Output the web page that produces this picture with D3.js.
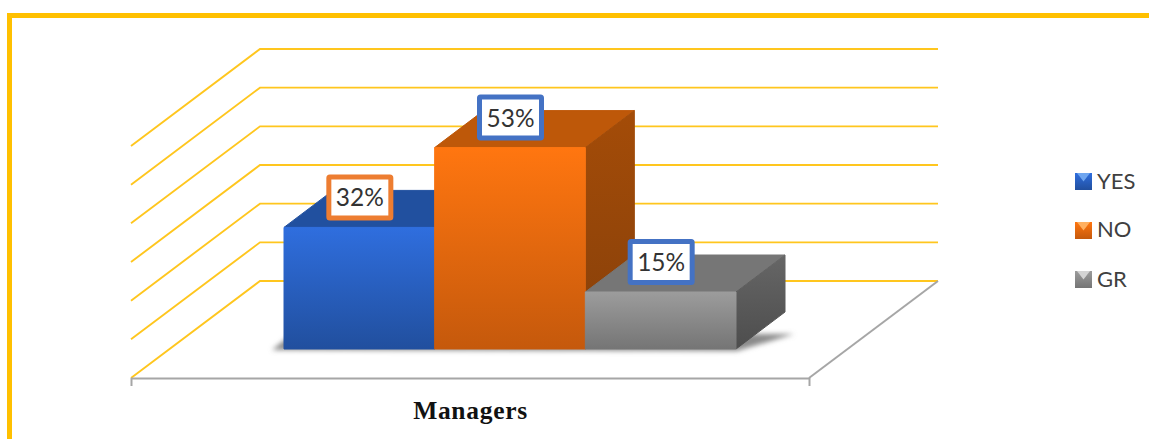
<!DOCTYPE html>
<html>
<head>
<meta charset="utf-8">
<script src="https://cdn.jsdelivr.net/npm/d3@7"></script>
<style>
  html, body { margin: 0; padding: 0; background: #fff; }
  svg { display: block; }
</style>
</head>
<body>
<svg id="chart" width="1149" height="439"></svg>
<script>
// Survey result for managers, in percent
const categories = ["Managers"];
const seriesNames = ["YES", "NO", "GR"];
const seriesValues = [32, 53, 15];
const valueTicks = [0, 10, 20, 30, 40, 50, 60];

// Per-series face colours
const faces = [
  { frontTop: "#2F6EDE", frontBottom: "#214F9E", top: "#21509F", sideTop: "#1E4A94", sideBottom: "#173A75", glint: "#6FA6F0" },
  { frontTop: "#FF7610", frontBottom: "#C5590C", top: "#BE5809", sideTop: "#A44C08", sideBottom: "#87400A", glint: "#FFB060" },
  { frontTop: "#9C9C9C", frontBottom: "#757575", top: "#767676", sideTop: "#666666", sideBottom: "#4D4D4D", glint: "#D4D4D4" }
];
const labelBorders = ["#ED7D31", "#4472C4", "#4472C4"];

const svg = d3.select("#chart");
const defs = svg.append("defs");

// Oblique projection: the floor runs back and up from its front edge
const frontY = 378, depthDX = 129, depthDY = -97;
const floorX = d3.scaleLinear().domain([0, 1]).range([131, 809]);
const wallY = d3.scaleLinear().domain([0, 60]).range([frontY + depthDY, 49]);
const barHeight = d3.scaleLinear().domain([0, 100]).range([0, 380]);
const barBand = d3.scaleBand().domain(seriesNames).range([284, 736]);

const GOLD = "#FFC000", AXIS = "#A6A6A6";

// Outer frame
svg.append("path")
  .attr("d", "M9.5 439V15.5H1149")
  .attr("fill", "none").attr("stroke", GOLD).attr("stroke-width", 5);

// Gridlines: left wall then back wall
const grid = svg.append("g").attr("fill", "none").attr("stroke", "#FFC61E").attr("stroke-width", 1.9);
grid.selectAll("path").data(valueTicks).join("path")
  .attr("d", t => {
    const y = wallY(t);
    const x0 = floorX(0), x1 = floorX(1) + depthDX;
    return `M${x0} ${y - depthDY}L${x0 + depthDX} ${y}H${x1}`;
  });

// Floor edges and category axis
const axisG = svg.append("g").attr("transform", `translate(0,${frontY})`);
axisG.call(d3.axisBottom(d3.scaleLinear().domain([0, 1]).range(floorX.range()))
    .tickValues([0, 1]).tickSize(8).tickFormat(""));
axisG.selectAll("path, line").attr("stroke", AXIS).attr("stroke-width", 2);
axisG.select("path").attr("d", `M${floorX(0)} 0.5H${floorX(1)}`);
svg.append("line")
  .attr("x1", floorX(1)).attr("y1", frontY)
  .attr("x2", floorX(1) + depthDX).attr("y2", frontY + depthDY)
  .attr("stroke", AXIS).attr("stroke-width", 2);

// Soft shadow cast on the floor
defs.append("filter").attr("id", "soft")
  .attr("x", "-10%").attr("y", "-30%").attr("width", "120%").attr("height", "160%")
  .append("feGaussianBlur").attr("stdDeviation", 2.6);

// Bars
const barBottom = 349, barDX = 49, barDY = -37;
const first = barBand(seriesNames[0]), last = barBand(seriesNames[2]) + barBand.bandwidth();
svg.append("path")
  .attr("d", `M${first - 12} ${barBottom + 1}L${first + 8} ${barBottom - 15}H${last + 58}L${last + 1} ${barBottom + 2}Z`)
  .attr("fill", "#8a8a8a").attr("filter", "url(#soft)");

seriesNames.forEach((name, i) => {
  const f = faces[i];
  const addGrad = (id, c0, c1) => {
    const g = defs.append("linearGradient").attr("id", id)
      .attr("x1", 0).attr("y1", 0).attr("x2", 0).attr("y2", 1);
    g.append("stop").attr("offset", 0).attr("stop-color", c0);
    g.append("stop").attr("offset", 1).attr("stop-color", c1);
  };
  addGrad("front" + i, f.frontTop, f.frontBottom);
  addGrad("side" + i, f.sideTop, f.sideBottom);
  addGrad("swatch" + i, f.frontTop, f.frontBottom);
});

const bars = svg.append("g").selectAll("g").data(seriesNames).join("g");
bars.each(function (name, i) {
  const g = d3.select(this);
  const x0 = barBand(name), x1 = x0 + barBand.bandwidth();
  const top = barBottom - barHeight(seriesValues[i]);
  const poly = (pts, fill) => g.append("polygon")
    .attr("points", pts.map(p => p.join(",")).join(" "))
    .attr("fill", fill).attr("stroke", fill)
    .attr("stroke-width", 1).attr("stroke-linejoin", "round");
  poly([[x0, top], [x1, top], [x1 + barDX, top + barDY], [x0 + barDX, top + barDY]], faces[i].top);
  poly([[x1, top], [x1 + barDX, top + barDY], [x1 + barDX, barBottom + barDY], [x1, barBottom]], `url(#side${i})`);
  poly([[x0, top], [x1, top], [x1, barBottom], [x0, barBottom]], `url(#front${i})`);
});

// Value labels above each bar
const labelW = 62, labelH = 41;
const labels = svg.append("g").selectAll("g").data(seriesNames).join("g")
  .attr("transform", (name, i) => {
    const cx = barBand(name) + barBand.bandwidth() / 2 + 0.5;
    return `translate(${cx},${barBottom - barHeight(seriesValues[i]) - 30})`;
  });
labels.append("rect")
  .attr("x", -labelW / 2).attr("y", -labelH / 2)
  .attr("width", labelW).attr("height", labelH).attr("rx", 1)
  .attr("fill", "#fff").attr("stroke", (n, i) => labelBorders[i]).attr("stroke-width", 5);
labels.append("text")
  .attr("text-anchor", "middle").attr("y", 9)
  .attr("font-family", "Lato, 'Noto Sans', sans-serif").attr("font-size", 25.5)
  .attr("textLength", 48).attr("lengthAdjust", "spacingAndGlyphs")
  .attr("fill", "#333")
  .text((n, i) => seriesValues[i] + "%");

// Category title
svg.append("text")
  .attr("x", 470.5).attr("y", 419).attr("text-anchor", "middle")
  .attr("font-family", "'Liberation Serif', serif").attr("font-weight", "bold")
  .attr("font-size", 25.5).attr("letter-spacing", 0.7).attr("fill", "#111")
  .text(categories[0]);

// Legend
const legendY = d3.scalePoint().domain(seriesNames).range([181.5, 279.5]);
const swatch = 17;
const legend = svg.append("g").selectAll("g").data(seriesNames).join("g")
  .attr("transform", n => `translate(1075,${legendY(n)})`);
legend.append("rect")
  .attr("y", -swatch / 2).attr("width", swatch).attr("height", swatch)
  .attr("fill", (n, i) => `url(#swatch${i})`);
legend.append("path")
  .attr("d", `M2 ${-swatch / 2}H${swatch - 2}L${swatch / 2} 0Z`)
  .attr("fill", (n, i) => faces[i].glint);
legend.append("text")
  .attr("x", 22).attr("y", (n, i) => i === 1 ? 6 : 7.5)
  .attr("font-family", "Lato, 'Noto Sans', sans-serif").attr("font-size", 22)
  .attr("fill", "#404040")
  .text(n => n);
</script>
</body>
</html>
